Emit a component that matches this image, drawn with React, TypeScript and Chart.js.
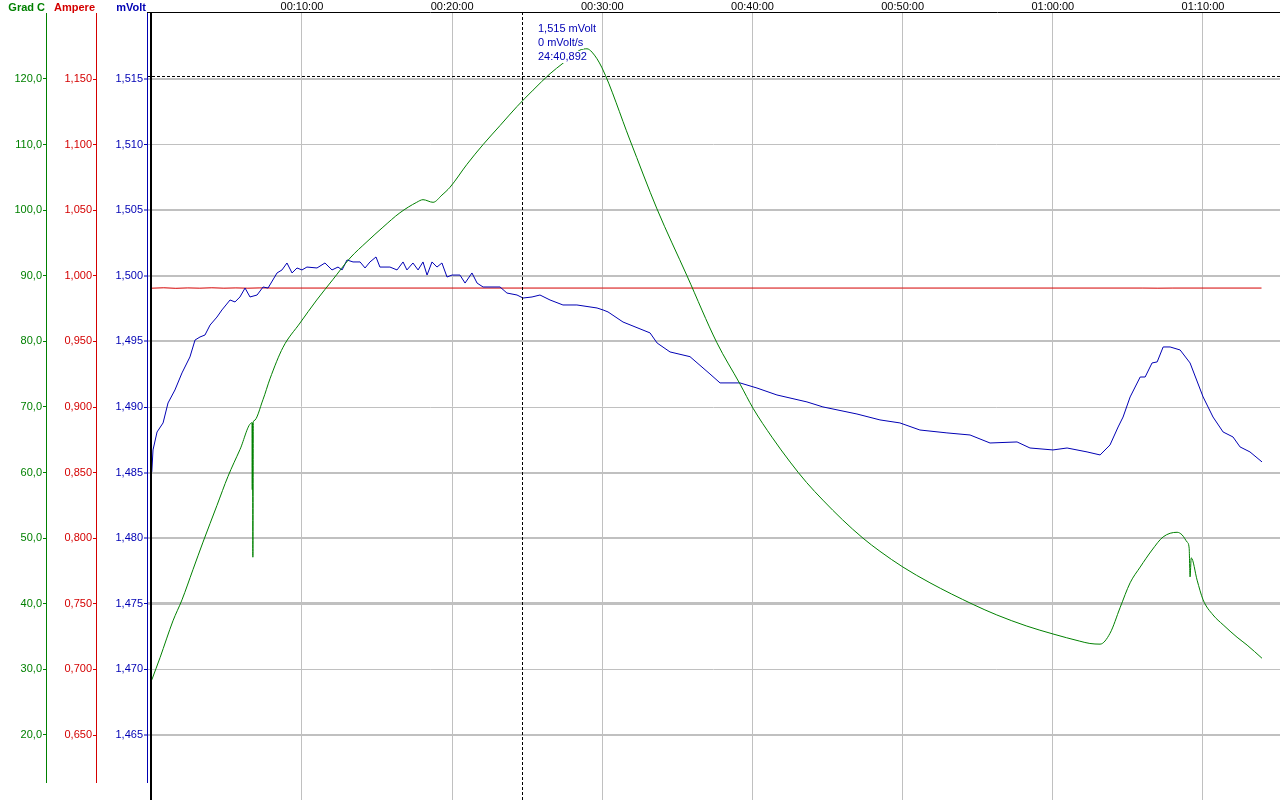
import React, { useEffect, useRef } from 'react';
import { Chart, registerables } from 'chart.js';

Chart.register(...registerables);

// ---------- data (time in minutes) ----------
const tempTimes = [0.0, 0.55, 1.41, 2.01, 2.74, 3.41, 4.34, 5.07, 5.87, 6.67, 6.69, 6.71, 6.73, 6.76, 6.8, 7.4, 7.87, 8.74, 9.87, 10.98, 12.05, 13.2, 14.33, 15.39, 16.52, 17.64, 18.06, 18.73, 19.32, 19.86, 20.99, 22.06, 23.19, 24.32, 25.39, 26.52, 27.38, 28.51, 28.98, 29.31, 29.98, 31.84, 33.64, 35.64, 37.63, 39.17, 40.04, 41.3, 42.51, 43.6, 44.69, 46.0, 47.36, 48.49, 50.02, 51.82, 54.69, 56.27, 58.27, 60.01, 61.8, 62.47, 63.15, 63.81, 64.48, 65.15, 65.82, 66.61, 67.35, 68.28, 68.61, 68.95, 69.08, 69.14, 69.22, 69.61, 70.01, 70.67, 71.34, 72.27, 72.94, 73.93];
const tempValues = [28.4, 31.8, 37.4, 40.6, 45.2, 49.4, 55.0, 59.4, 63.5, 67.6, 57.4, 67.6, 47.1, 67.7, 67.9, 71.1, 74.3, 79.1, 82.8, 86.3, 89.4, 92.7, 95.2, 97.4, 99.6, 101.2, 101.6, 101.2, 102.3, 103.5, 107.0, 110.0, 112.9, 115.8, 118.3, 120.8, 122.4, 124.4, 124.6, 124.1, 121.7, 110.7, 100.2, 90.0, 79.8, 73.5, 69.8, 65.4, 61.6, 58.5, 55.8, 52.8, 50.0, 48.0, 45.6, 43.2, 39.9, 38.3, 36.6, 35.4, 34.3, 33.95, 33.85, 35.5, 39.4, 43.2, 45.6, 48.2, 50.2, 50.9, 50.5, 49.4, 48.5, 44.1, 47.0, 43.6, 40.6, 38.3, 36.8, 34.9, 33.7, 31.7];

const voltTimes = [0.0, 0.08, 0.35, 0.75, 1.08, 1.54, 2.01, 2.54, 2.88, 3.21, 3.54, 3.88, 4.34, 4.67, 4.94, 5.21, 5.54, 5.87, 6.21, 6.54, 7.01, 7.41, 7.74, 8.34, 8.67, 9.0, 9.34, 9.67, 10.0, 10.33, 11.0, 11.53, 12.0, 12.4, 12.67, 13.0, 13.4, 13.87, 14.2, 14.53, 14.93, 15.19, 15.86, 16.33, 16.73, 16.99, 17.39, 17.73, 18.06, 18.33, 18.66, 18.99, 19.32, 19.66, 19.99, 20.52, 20.86, 21.32, 21.66, 22.06, 23.19, 23.65, 24.32, 24.72, 25.32, 25.85, 26.52, 27.38, 28.31, 29.65, 30.05, 30.38, 31.38, 33.18, 33.65, 34.51, 35.84, 37.17, 37.84, 39.17, 40.3, 41.63, 43.63, 44.69, 46.96, 48.49, 49.82, 51.15, 52.95, 54.49, 55.82, 57.62, 58.48, 60.01, 60.95, 62.28, 63.15, 63.81, 64.35, 64.68, 65.15, 65.82, 66.15, 66.61, 66.95, 67.35, 67.81, 68.48, 69.14, 70.01, 70.67, 71.34, 72.0, 72.47, 73.13, 73.93];
const voltValues = [1.48505, 1.48673, 1.4881, 1.48879, 1.49031, 1.4913, 1.4926, 1.49382, 1.49511, 1.49534, 1.49549, 1.49625, 1.49686, 1.4974, 1.49778, 1.49816, 1.49801, 1.49839, 1.49907, 1.49839, 1.49854, 1.49915, 1.49907, 1.50022, 1.50045, 1.50098, 1.50022, 1.5006, 1.50045, 1.50067, 1.5006, 1.50098, 1.50045, 1.50067, 1.50045, 1.50121, 1.50106, 1.50106, 1.5006, 1.50106, 1.50144, 1.50067, 1.50067, 1.50045, 1.50106, 1.50045, 1.50098, 1.50045, 1.50106, 1.50006, 1.50106, 1.50067, 1.50098, 1.49991, 1.50006, 1.50006, 1.49945, 1.50022, 1.49945, 1.49915, 1.49915, 1.49869, 1.49854, 1.49831, 1.49839, 1.49854, 1.49816, 1.49778, 1.49778, 1.49755, 1.4974, 1.49725, 1.49648, 1.49565, 1.49488, 1.4942, 1.49384, 1.49252, 1.49184, 1.49184, 1.49145, 1.49092, 1.49039, 1.49001, 1.48947, 1.48902, 1.48879, 1.48825, 1.48803, 1.48787, 1.48726, 1.48734, 1.48688, 1.48673, 1.48688, 1.48658, 1.48635, 1.48711, 1.48848, 1.48924, 1.49077, 1.49229, 1.49229, 1.49336, 1.49344, 1.49458, 1.49458, 1.49435, 1.49336, 1.49077, 1.48924, 1.4881, 1.48772, 1.48696, 1.48658, 1.48582];

const ampTimes = [0, 0.8, 1.6, 2.4, 3.2, 4.0, 4.8, 5.6, 6.4, 7.2, 8.0, 30.0, 50.0, 66.0, 67.0, 68.0, 73.9];
const ampValues = [0.9906, 0.9909, 0.9905, 0.9908, 0.9906, 0.9909, 0.9906, 0.9908, 0.9906, 0.9908, 0.9907, 0.9907, 0.9907, 0.9907, 0.9906, 0.9907, 0.9907];

const timeTicks = [0, 10, 20, 30, 40, 50, 60, 70];
const tempTicks = [20, 30, 40, 50, 60, 70, 80, 90, 100, 110, 120];
const ampTicks = [0.65, 0.7, 0.75, 0.8, 0.85, 0.9, 0.95, 1.0, 1.05, 1.1, 1.15];
const voltTicks = [1.465, 1.47, 1.475, 1.48, 1.485, 1.49, 1.495, 1.5, 1.505, 1.51, 1.515];

const cursorTime = 24.6815;
const cursorVolt = 1.5152;
const cursorLines = ['1,515 mVolt', '0 mVolt/s', '24:40,892'];

// ---------- styles ----------
const GREEN = '#008000';
const RED = '#d40000';
const BLUE = '#0000b4';
const GRID = '#c0c0c0';
const FONT = '"Liberation Sans", Arial, sans-serif';
const gridWidths = [2, 1, 3, 2, 2, 1, 2, 2, 2, 1, 2];

const zip = (xs: number[], ys: number[]) => xs.map((x, i) => ({ x, y: ys[i] }));
const pad2 = (n: number) => String(n).padStart(2, '0');
const fmtTime = (m: number) => {
  const s = Math.round(m * 60);
  return `${pad2(Math.floor(s / 3600))}:${pad2(Math.floor((s % 3600) / 60))}:${pad2(s % 60)}`;
};
const comma = (v: number, d: number) => v.toFixed(d).replace('.', ',');

const setTicks = (vals: number[]) => (scale: any) => {
  scale.ticks = vals.map((v) => ({ value: v }));
};
const fixWidth = (w: number) => (scale: any) => {
  scale.width = w;
  scale.paddingTop = 0;
  scale.paddingBottom = 0;
};

const AXES: [string, string, string][] = [
  ['temp', 'Grad C', GREEN],
  ['amp', 'Ampere', RED],
  ['volt', 'mVolt', BLUE],
];

const overlay = {
  id: 'overlay',
  afterDatasetsDraw(chart: any) {
    const { ctx, chartArea, scales } = chart;
    const x = Math.round(scales.x.getPixelForValue(cursorTime)) + 0.5;
    const y = Math.round(scales.volt.getPixelForValue(cursorVolt)) + 0.5;
    ctx.save();
    ctx.strokeStyle = '#000';
    ctx.lineWidth = 1;
    ctx.setLineDash([3, 2]);
    ctx.beginPath();
    ctx.moveTo(x, chartArea.top);
    ctx.lineTo(x, chartArea.bottom);
    ctx.moveTo(chartArea.left, y);
    ctx.lineTo(chartArea.right, y);
    ctx.stroke();
    ctx.setLineDash([]);

    ctx.font = `11px ${FONT}`;
    ctx.textBaseline = 'middle';
    ctx.textAlign = 'left';
    cursorLines.forEach((s, i) => {
      const ty = chartArea.top + 17 + i * 14;
      const w = ctx.measureText(s).width;
      ctx.fillStyle = '#fff';
      ctx.fillRect(x + 15, ty - 6, w + 1, 12);
      ctx.fillStyle = BLUE;
      ctx.fillText(s, x + 15.5, ty);
    });

    // dark frame of plot area
    ctx.fillStyle = '#000';
    ctx.fillRect(chartArea.left + 3, chartArea.top, 2, chartArea.bottom - chartArea.top);
    ctx.restore();
  },
  afterDraw(chart: any) {
    const { ctx, scales, chartArea } = chart;
    ctx.save();
    // coloured axis lines, ending a little above the bottom like the original
    AXES.forEach(([id, , c]) => {
      ctx.fillStyle = c;
      ctx.fillRect(Math.round(scales[id].right), chartArea.top + 1, 1, chartArea.bottom - chartArea.top - 18);
    });
    ctx.font = `bold 11px ${FONT}`;
    ctx.textBaseline = 'middle';
    ctx.textAlign = 'right';
    AXES.forEach(([id, t, c]) => {
      ctx.fillStyle = c;
      ctx.fillText(t, scales[id].right - 1, 7.5);
    });
    ctx.restore();
  },
};

const yAxis = (color: string, ticks: number[], min: number, max: number, width: number, weight: number, dec: number, grid: boolean) => ({
  type: 'linear' as const,
  position: 'left' as const,
  weight,
  min,
  max,
  afterBuildTicks: setTicks(ticks),
  afterFit: fixWidth(width),
  border: { display: false },
  grid: {
    drawOnChartArea: grid,
    color: GRID,
    lineWidth: (ctx: any) => (grid ? gridWidths[ctx.index] ?? 1 : 1),
    tickColor: color,
    tickLength: 3,
    tickWidth: 1,
  },
  ticks: {
    color,
    padding: 1,
    autoSkip: false,
    font: { family: FONT, size: 11 },
    callback: (v: number) => comma(v, dec),
  },
});

export default function App() {
  const ref = useRef<HTMLCanvasElement>(null);

  useEffect(() => {
    if (!ref.current) return;
    const chart = new Chart(ref.current, {
      type: 'line',
      data: {
        datasets: [
          { label: 'Grad C', data: zip(tempTimes, tempValues), yAxisID: 'temp', borderColor: GREEN, borderWidth: 1, pointRadius: 0, cubicInterpolationMode: 'monotone' },
          { label: 'mVolt', data: zip(voltTimes, voltValues), yAxisID: 'volt', borderColor: BLUE, borderWidth: 1, pointRadius: 0, tension: 0 },
          { label: 'Ampere', data: zip(ampTimes, ampValues), yAxisID: 'amp', borderColor: RED, borderWidth: 1, pointRadius: 0, tension: 0 },
        ],
      },
      options: {
        responsive: false,
        animation: false,
        devicePixelRatio: 1,
        layout: { padding: 0 },
        plugins: { legend: { display: false }, tooltip: { enabled: false }, title: { display: false } },
        scales: {
          x: {
            type: 'linear',
            position: 'top',
            min: -0.32,
            max: 75.13,
            afterBuildTicks: setTicks(timeTicks),
            afterFit: (s: any) => {
              s.height = 12;
              s.paddingLeft = 0;
              s.paddingRight = 0;
            },
            border: { display: true, color: '#000', width: 1 },
            grid: { color: GRID, lineWidth: 1, drawTicks: false },
            ticks: {
              color: '#000',
              padding: -2,
              maxRotation: 0,
              autoSkip: false,
              font: { family: FONT, size: 11 },
              callback: (v: number) => (v === 0 ? '' : fmtTime(v)),
            },
          },
          temp: yAxis(GREEN, tempTicks, 10.09, 130.21, 46, 3, 1, false),
          amp: yAxis(RED, ampTicks, 0.6005, 1.2011, 50, 2, 3, false),
          volt: yAxis(BLUE, voltTicks, 1.46005, 1.52011, 51, 1, 3, true),
        },
      },
      plugins: [overlay],
    } as any);
    return () => chart.destroy();
  }, []);

  return (
    <div style={{ position: 'absolute', left: 0, top: 0, width: 1280, height: 800, background: '#fff' }}>
      <canvas ref={ref} width={1280} height={800} style={{ display: 'block', width: 1280, height: 800 }} />
    </div>
  );
}
